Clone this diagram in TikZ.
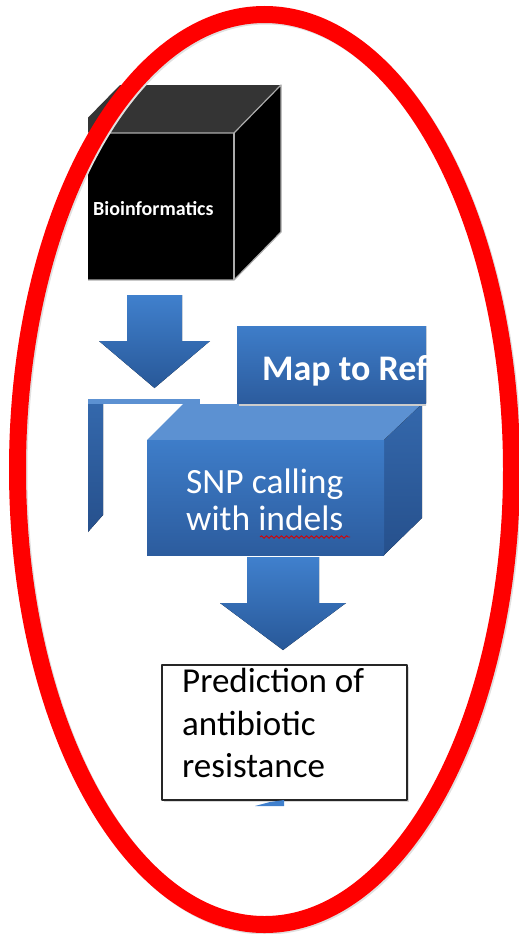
\documentclass[tikz,border=0pt]{standalone}
\usepackage{fontspec}
\setmainfont{Carlito}
\usetikzlibrary{decorations.pathmorphing}

\begin{document}
\begin{tikzpicture}[x=1pt,y=-1pt,line join=round,
  face/.style={top color=boxtop,bottom color=boxbot},
  side/.style={top color=sidetop,bottom color=sidebot},
  lid/.style={fill=boxlid},
  blockarrow/.style={top color=arrtop,bottom color=arrbot},
  cubeedge/.style={draw=gray!65,line width=1.2pt},
  lab/.style={anchor=base west,inner sep=0pt}]

  \definecolor{boxtop}{RGB}{62,125,201}
  \definecolor{boxbot}{RGB}{44,92,158}
  \definecolor{sidetop}{RGB}{52,104,172}
  \definecolor{sidebot}{RGB}{38,80,140}
  \definecolor{boxlid}{RGB}{92,145,210}
  \definecolor{arrtop}{RGB}{64,128,205}
  \definecolor{arrbot}{RGB}{40,88,152}
  \definecolor{cubelid}{RGB}{52,52,52}

  \useasboundingbox (0,0) rectangle (519,934);

  \begin{scope}
    \clip (88,80) rectangle (426,806);

    % ---- black cube (top) ----
    \fill[cubelid] (73,133) -- (120,85) -- (281,85) -- (234,133) -- cycle;
    \fill[black] (73,133) rectangle (234,280);
    \fill[black] (234,133) -- (281,85) -- (281,232) -- (234,280) -- cycle;
    \draw[cubeedge] (73,133) -- (234,133) -- (281,85) -- (281,232) -- (234,280) -- (73,280);
    \draw[cubeedge] (234,133) -- (234,280);
    \node[lab,text=white,font=\fontsize{20}{24}\selectfont\bfseries] (bioinf) at (93,215) {Bioinformatics};

    % ---- first block arrow ----
    \fill[blockarrow] (127,295) -- (182,295) -- (182,341) -- (210,341) -- (154.5,388)
      -- (99,341) -- (127,341) -- cycle;

    % ---- box cut off at the left ----
    \fill[boxlid] (88,399) rectangle (200,404);
    \fill[side] (88,404) -- (103,404) -- (103,515) -- (88,532) -- cycle;

    % ---- SNP box ----
    \fill[lid] (147,440) -- (183,404) -- (422,404) -- (384,440) -- cycle;
    \fill[side] (384,440) -- (422,404) -- (422,518) -- (384,555) -- cycle;
    \fill[face] (147,440) rectangle (384,555);
    \node[lab,text=white,font=\fontsize{35.5}{40}\selectfont] (snp) at (186,493) {SNP calling};
    \node[lab,text=white,font=\fontsize{35.5}{40}\selectfont] (indels) at (186,530) {with indels};
    \draw[red!85!black,line width=0.9pt,decorate,
      decoration={snake,amplitude=1.3pt,segment length=5pt}] (260,537) -- (350,537);

    % ---- Map to Ref box (cut off at the right) ----
    \fill[black!20] (239,329) rectangle (430,406);
    \fill[face] (237,326) rectangle (430,403);
    \node[lab,text=white,font=\fontsize{36}{40}\selectfont\bfseries] (mapref) at (262,380) {Map to Ref};

    % ---- second block arrow ----
    \fill[blockarrow] (247,557) -- (319,557) -- (319,603) -- (346,603) -- (283,650)
      -- (220,603) -- (247,603) -- cycle;

    % ---- prediction box ----
    \fill[black!15] (164,667) rectangle (409,802);
    \draw[fill=white,draw=black!85,line width=1.4pt] (162,665) rectangle (407,800);
    \node[lab,font=\fontsize{35}{40}\selectfont] (pred1) at (182,692) {Prediction of};
    \node[lab,font=\fontsize{35}{40}\selectfont] (pred2) at (182,735) {antibiotic};
    \node[lab,font=\fontsize{35}{40}\selectfont] (pred3) at (182,777) {resistance};

    % sliver of the next arrow
    \fill[arrtop] (255,806) -- (270,802) -- (284,800) -- (284,806) -- cycle;
  \end{scope}

  % ---- red ellipse round it all ----
  \draw[black!12,line width=17pt] (266,471) ellipse [x radius=247,y radius=455];
  \draw[red,line width=17pt] (264.5,469.5) ellipse [x radius=247,y radius=455];
\end{tikzpicture}
\end{document}
